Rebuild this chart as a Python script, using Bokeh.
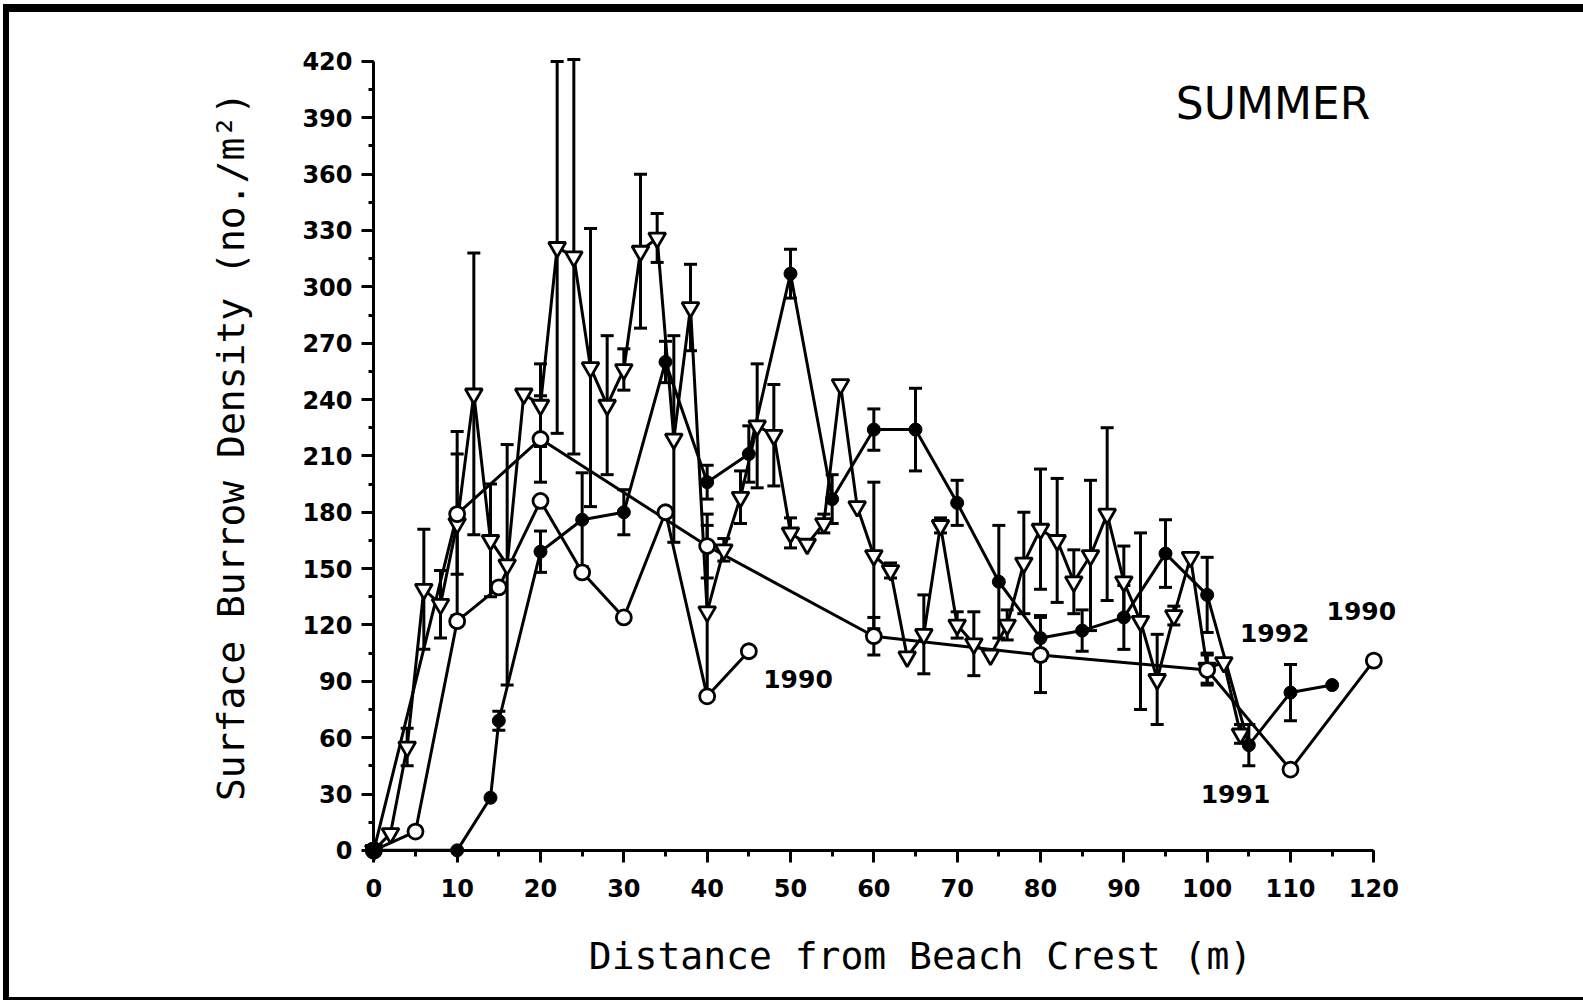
from bokeh.plotting import figure
from bokeh.models import Range1d, FixedTicker, Whisker, TeeHead, ColumnDataSource, Label, LinearAxis
from bokeh.embed import file_html
from bokeh.resources import INLINE

# ---- data ----
# open circles, early series (labelled "1990" at 45 m)
dist_1990a = [0, 5, 10, 15, 20, 25, 30, 35, 40, 45]
dens_1990a = [0, 10, 122, 140, 186, 148, 124, 180, 82, 106]

# open circles, long transect (labelled "1990" at 120 m)
dist_1990b = [0, 10, 20, 40, 60, 80, 100, 110, 120]
dens_1990b = [0, 179, 219, 162, 114, 104, 96, 43, 101]
err_1990b = [0, 32, 23, 17, 10, 20, 8, 0, 0]

# open inverted triangles ("1991")
dist_1991 = [0, 2, 4, 6, 8, 10, 12, 14, 16, 18, 20, 22, 24, 26, 28, 30, 32, 34, 36, 38,
             40, 42, 44, 46, 48, 50, 52, 54, 56, 58, 60, 62, 64, 66, 68, 70, 72, 74, 76, 78,
             80, 82, 84, 86, 88, 90, 92, 94, 96, 98, 100, 102, 104]
dens_1991 = [0, 9, 55, 139, 131, 174, 243, 165, 152, 243, 237, 321, 316, 257, 237, 256, 319, 326, 219, 289,
             127, 160, 188, 226, 221, 169, 163, 174, 248, 183, 157, 149, 103, 115, 173, 120, 110, 104, 120, 153,
             171, 165, 143, 157, 179, 143, 122, 91, 125, 156, 97, 100, 62]
err_1991 = [0, 0, 10, 32, 18, 49, 75, 30, 64, 0, 22, 99, 105, 74, 37, 11, 41, 13, 55, 23,
            46, 6, 14, 33, 27, 8, 0, 5, 0, 0, 39, 4, 0, 21, 4, 7, 17, 0, 8, 27,
            32, 33, 17, 40, 46, 19, 47, 24, 5, 0, 8, 0, 5]

# filled circles ("1992")
dist_1992 = [0, 10, 14, 15, 20, 25, 30, 35, 40, 45, 50, 55, 60, 65, 70, 75, 80, 85, 90, 95, 100, 105, 110, 115]
dens_1992 = [0, 0, 28, 69, 159, 176, 180, 260, 196, 211, 307, 187, 224, 224, 185, 143, 113, 117, 124, 158, 136, 56, 84, 88]
err_1992 = [0, 0, 0, 5, 11, 25, 12, 11, 9, 15, 13, 13, 11, 22, 12, 30, 12, 11, 17, 18, 20, 11, 15, 0]

x_ticks = [0, 10, 20, 30, 40, 50, 60, 70, 80, 90, 100, 110, 120]
x_minor = [0, 5, 10, 15, 20, 25, 30, 35, 40, 45, 50, 55, 60, 65, 70, 75, 80, 85, 90, 95, 100, 105, 110, 115, 120]
y_ticks = [0, 30, 60, 90, 120, 150, 180, 210, 240, 270, 300, 330, 360, 390, 420]
y_minor = [0, 15, 30, 45, 60, 75, 90, 105, 120, 135, 150, 165, 180, 195, 210, 225, 240, 255, 270, 285,
           300, 315, 330, 345, 360, 375, 390, 405, 420]

season_label = "SUMMER"
year_labels = ["1990", "1990", "1992", "1991"]
year_label_pos = [(50.9, 91.3), (118.5, 127.3), (108.1, 115.5), (103.4, 30.0)]

x_title = "Distance from Beach Crest (m)"
y_title = "Surface Burrow Density (no./m\u00b2)"

# ---- figure ----
p = figure(width=1580, height=996,
           x_range=Range1d(-1.6, 132.8), y_range=Range1d(-7, 437),
           output_backend="svg", toolbar_location=None,
           min_border_left=351, min_border_right=109,
           min_border_top=17, min_border_bottom=145)
p.styles = {"border-top": "8px solid black", "border-left": "6px solid black",
            "border-bottom": "3px solid black",
            "margin-top": "4px", "margin-left": "3px"}
p.background_fill_color = "white"
p.border_fill_color = "white"
p.outline_line_color = None
p.xgrid.visible = False
p.ygrid.visible = False

LW = 3

# label axes at the frame edges (tick labels and titles only)
for ax in (p.xaxis[0], p.yaxis[0]):
    ax.axis_line_color = None
    ax.major_tick_line_color = None
    ax.minor_tick_line_color = None
    ax.major_tick_in = 0
    ax.major_tick_out = 0
    ax.minor_tick_in = 0
    ax.minor_tick_out = 0
    ax.major_label_text_font = "DejaVu Sans"
    ax.major_label_text_font_style = "bold"
    ax.major_label_text_font_size = "24px"
    ax.major_label_text_color = "black"
    ax.axis_label_text_font = "DejaVu Sans Mono"
    ax.axis_label_text_font_style = "normal"
    ax.axis_label_text_font_size = "38px"
    ax.axis_label_text_color = "black"

p.xaxis.ticker = FixedTicker(ticks=x_ticks, minor_ticks=x_minor)
p.yaxis.ticker = FixedTicker(ticks=y_ticks, minor_ticks=y_minor)
p.xaxis.bounds = (0, 120)
p.yaxis.bounds = (0, 420)
p.xaxis.major_label_standoff = 15
p.yaxis.major_label_standoff = 8
p.xaxis.axis_label = x_title
p.yaxis.axis_label = y_title
p.xaxis.axis_label_standoff = 34
p.yaxis.axis_label_standoff = 46

# axis lines and ticks drawn through the data origin
def line_axis(ticks, minor, bounds, minor_len):
    a = LinearAxis(ticker=FixedTicker(ticks=ticks, minor_ticks=minor), bounds=bounds,
                   fixed_location=0,
                   axis_line_width=LW, axis_line_color="black",
                   major_tick_line_width=LW, minor_tick_line_width=LW,
                   major_tick_line_color="black", minor_tick_line_color="black",
                   major_tick_in=12, major_tick_out=0,
                   minor_tick_in=minor_len, minor_tick_out=0,
                   major_label_text_font_size="0px", major_label_text_alpha=0)
    return a

p.add_layout(line_axis(x_ticks, x_minor, (0, 120), 6), "above")
p.add_layout(line_axis(y_ticks, y_minor, (0, 420), 5), "right")

# lines
p.line(dist_1990a, dens_1990a, line_color="black", line_width=LW)
p.line(dist_1990b, dens_1990b, line_color="black", line_width=LW)
p.line(dist_1991, dens_1991, line_color="black", line_width=LW)
p.line(dist_1992, dens_1992, line_color="black", line_width=LW)

# error bars
def add_errors(xs, ys, es):
    sel = [(x, y, e) for x, y, e in zip(xs, ys, es) if e > 0]
    src = ColumnDataSource(dict(x=[s[0] for s in sel],
                                lower=[s[1] - s[2] for s in sel],
                                upper=[s[1] + s[2] for s in sel]))
    w = Whisker(source=src, base="x", lower="lower", upper="upper",
                line_color="black", line_width=LW,
                upper_head=TeeHead(size=13, line_width=LW, line_color="black"),
                lower_head=TeeHead(size=13, line_width=LW, line_color="black"))
    p.add_layout(w)

add_errors(dist_1990b, dens_1990b, err_1990b)
add_errors(dist_1991, dens_1991, err_1991)
add_errors(dist_1992, dens_1992, err_1992)

# markers
p.scatter(dist_1991, dens_1991, marker="inverted_triangle", size=17,
          fill_color="white", line_color="black", line_width=2.8)
p.scatter(dist_1990a, dens_1990a, marker="circle", size=15,
          fill_color="white", line_color="black", line_width=2.8)
p.scatter(dist_1990b, dens_1990b, marker="circle", size=15,
          fill_color="white", line_color="black", line_width=2.8)
p.scatter(dist_1992, dens_1992, marker="circle", size=13,
          fill_color="black", line_color="black", line_width=1)

# text labels
for txt, (lx, ly) in zip(year_labels, year_label_pos):
    p.add_layout(Label(x=lx, y=ly, text=txt, text_align="center", text_baseline="middle",
                       text_font="DejaVu Sans", text_font_style="bold",
                       text_font_size="25px", text_color="black"))
p.add_layout(Label(x=107.9, y=397.4, text=season_label, text_align="center",
                   text_baseline="middle", text_font="DejaVu Sans",
                   text_font_size="44px", text_color="black"))

open("out.html", "w").write(file_html(p, INLINE))
